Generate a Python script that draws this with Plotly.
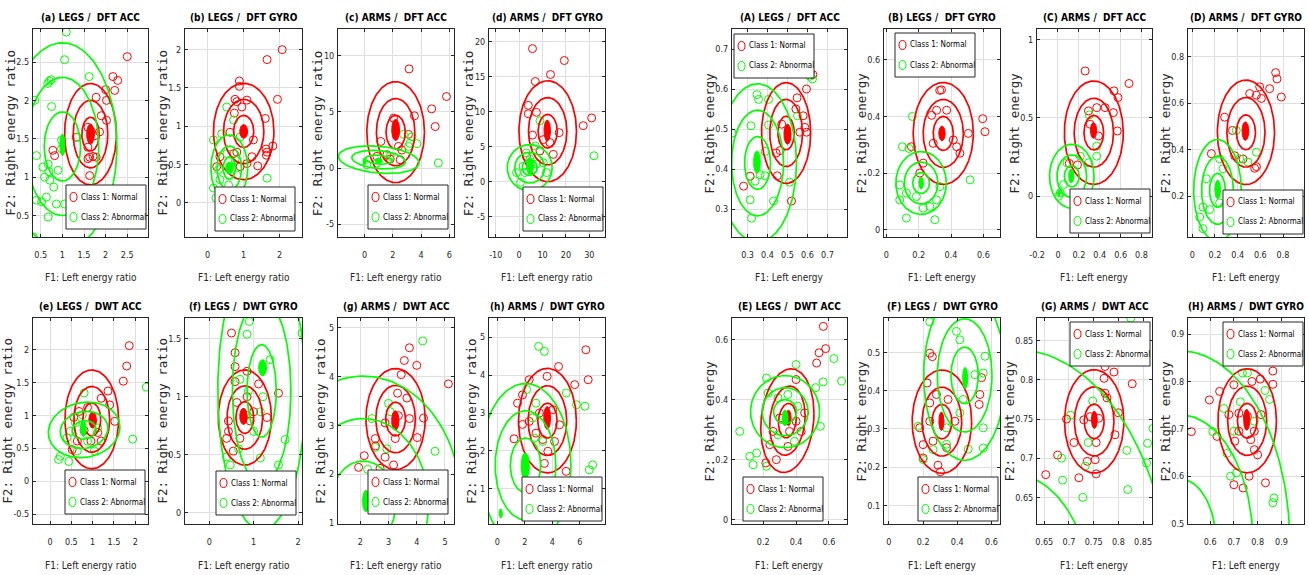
import math
import numpy as np
import plotly.graph_objects as go

W, H = 1309, 575

# ---------------- DATA ----------------
PANELS = ["a", "b", "c", "d", "A", "B", "C", "D", "e", "f", "g", "h", "E", "F", "G", "H"]

titles = {
    "a": "(a) LEGS /\u00a0 DFT ACC", "b": "(b) LEGS /\u00a0 DFT GYRO",
    "c": "(c) ARMS /\u00a0 DFT ACC", "d": "(d) ARMS /\u00a0 DFT GYRO",
    "e": "(e) LEGS /\u00a0 DWT ACC", "f": "(f) LEGS /\u00a0 DWT GYRO",
    "g": "(g) ARMS /\u00a0 DWT ACC", "h": "(h) ARMS /\u00a0 DWT GYRO",
    "A": "(A) LEGS /\u00a0 DFT ACC", "B": "(B) LEGS /\u00a0 DFT GYRO",
    "C": "(C) ARMS /\u00a0 DFT ACC", "D": "(D) ARMS /\u00a0 DFT GYRO",
    "E": "(E) LEGS /\u00a0 DWT ACC", "F": "(F) LEGS /\u00a0 DWT GYRO",
    "G": "(G) ARMS /\u00a0 DWT ACC", "H": "(H) ARMS /\u00a0 DWT GYRO",
}
legend_labels = ["Class 1: Normal", "Class 2: Abnormal"]

# scattered samples (F1, F2)
red_pts = {
    "a": [(2.5, 2.57), (2.17, 2.31), (2.28, 2.26), (2.0, 2.14), (2.21, 2.13), (1.78, 2.04), (2.02, 2.0), (2.02, 1.74),
          (1.9, 1.8), (1.59, 1.65), (1.67, 1.59), (1.75, 1.54), (1.86, 1.59), (1.63, 1.26), (1.59, 1.24), (1.71, 1.27),
          (1.78, 1.26), (1.59, 1.39), (1.32, 1.52), (0.82, 1.28), (0.78, 1.35), (1.63, 1.02)],
    "b": [(2.07, 2.0), (1.65, 1.87), (1.94, 1.35), (0.88, 1.59), (0.88, 1.52), (0.76, 1.35), (0.81, 1.32), (0.95, 1.25),
          (1.09, 1.34), (0.74, 1.17), (1.6, 1.1), (1.81, 0.74), (1.62, 0.7), (1.65, 0.66), (1.63, 0.62), (1.39, 0.48),
          (1.23, 0.6), (0.34, 0.6), (0.25, 0.47), (0.72, 0.64), (1.09, 0.51), (1.27, 0.82), (0.62, 0.92), (0.81, 0.66),
          (0.9, 0.47)],
    "c": [(3.15, 8.84), (5.8, 6.38), (4.75, 5.28), (5.0, 3.7), (3.53, 4.66), (1.15, 2.37), (1.58, 1.19), (1.81, 0.8),
          (2.64, 1.6), (3.11, 3.0), (2.05, 4.45), (2.4, 1.93), (0.87, 1.04), (2.52, 0.74)],
    "d": [(5.7, 19.0), (19.3, 17.3), (13.4, 15.3), (6.9, 14.3), (3.9, 10.9), (3.9, 9.7), (7.4, 9.9), (27.4, 8.0),
          (31, 9.1), (5.7, 6.65), (17.1, 7.0), (14.6, 3.9), (13.1, 5.6), (10.3, 6.0), (8.9, 4.4), (3.1, 3.6)],
    "e": [(1.86, 2.06), (1.8, 1.75), (1.72, 1.52), (1.36, 1.37), (1.2, 1.26), (0.68, 1.06), (1.4, 1.16), (1.52, 0.91),
          (1.12, 0.74), (0.8, 0.77), (0.64, 0.61), (0.52, 0.48), (0.96, 0.61), (1.2, 0.61), (0.56, 0.97), (0.88, 1.12)],
    "f": [(0.5, 1.55), (0.58, 1.38), (0.58, 1.26), (0.58, 1.13), (0.85, 1.22), (1.11, 1.11), (1.56, 1.03), (0.43, 0.79),
          (0.43, 0.7), (0.39, 0.64), (0.54, 0.53), (0.69, 0.64), (0.92, 0.79), (1.3, 0.82), (0.5, 0.31), (0.85, 1.0),
          (1.0, 0.87), (0.62, 0.95)],
    "g": [(3.74, 4.59), (3.56, 4.33), (4.0, 4.23), (3.45, 4.04), (5.12, 3.85), (3.32, 3.66), (3.65, 3.56), (3.74, 3.14),
          (4.02, 2.75), (2.88, 3.05), (2.53, 2.73), (2.54, 2.58), (2.14, 2.38), (1.94, 2.14), (2.7, 2.12), (3.18, 2.19),
          (3.24, 2.73), (3.35, 3.2), (4.24, 3.15), (2.88, 2.35)],
    "h": [(6.43, 4.67), (6.6, 3.88), (4.45, 4.23), (3.62, 3.97), (2.32, 3.88), (1.83, 3.48), (1.47, 3.26), (2.32, 2.78),
          (1.22, 2.32), (2.81, 2.47), (3.67, 1.99), (4.52, 2.69), (4.16, 2.25), (3.42, 1.67), (5.0, 1.46), (5.62, 3.75),
          (3.06, 3.0), (1.83, 2.7), (3.3, 2.3), (4.03, 3.09)],
    "A": [(0.627, 0.636), (0.614, 0.642), (0.595, 0.6), (0.548, 0.578), (0.542, 0.55), (0.578, 0.533), (0.587, 0.504),
          (0.562, 0.492), (0.463, 0.446), (0.443, 0.44), (0.449, 0.383), (0.313, 0.382), (0.28, 0.357), (0.52, 0.32),
          (0.471, 0.512), (0.595, 0.492)],
    "B": [(0.596, 0.392), (0.61, 0.346), (0.507, 0.34), (0.33, 0.492), (0.341, 0.494), (0.311, 0.422), (0.373, 0.422),
          (0.28, 0.404), (0.414, 0.317), (0.455, 0.27), (0.435, 0.293), (0.29, 0.305), (0.228, 0.235), (0.155, 0.293),
          (0.207, 0.2)],
    "C": [(0.26, 0.8), (0.68, 0.72), (0.575, 0.63), (0.536, 0.673), (0.53, 0.534), (0.568, 0.417), (0.451, 0.566),
          (0.371, 0.566), (0.292, 0.545), (0.308, 0.46), (0.387, 0.385), (0.187, 0.2), (0.108, 0.21)],
    "D": [(0.735, 0.732), (0.747, 0.705), (0.785, 0.627), (0.682, 0.663), (0.594, 0.671), (0.565, 0.635), (0.506, 0.642),
          (0.609, 0.621), (0.285, 0.54), (0.353, 0.483), (0.374, 0.374), (0.447, 0.36), (0.55, 0.32), (0.565, 0.327),
          (0.168, 0.383)],
    "E": [(0.566, 0.644), (0.58, 0.57), (0.54, 0.556), (0.525, 0.522), (0.4, 0.467), (0.452, 0.356), (0.36, 0.294),
          (0.35, 0.244), (0.28, 0.2), (0.216, 0.189), (0.24, 0.25), (0.26, 0.294), (0.3, 0.339), (0.4, 0.328),
          (0.431, 0.294)],
    "F": [(0.239, 0.498), (0.254, 0.489), (0.223, 0.42), (0.278, 0.39), (0.239, 0.368), (0.346, 0.377), (0.386, 0.32),
          (0.532, 0.39), (0.528, 0.364), (0.542, 0.434), (0.239, 0.32), (0.18, 0.303), (0.258, 0.268), (0.2, 0.259),
          (0.287, 0.205), (0.301, 0.188), (0.229, 0.155), (0.243, 0.143), (0.337, 0.251), (0.2, 0.224)],
    "G": [(0.773, 0.817), (0.791, 0.81), (0.771, 0.802), (0.828, 0.795), (0.773, 0.783), (0.777, 0.777), (0.73, 0.749),
          (0.743, 0.753), (0.76, 0.751), (0.8, 0.758), (0.793, 0.73), (0.755, 0.72), (0.71, 0.72), (0.677, 0.704),
          (0.653, 0.679), (0.72, 0.675), (0.737, 0.696), (0.753, 0.698), (0.755, 0.68), (0.695, 0.75)],
    "H": [(0.864, 0.822), (0.864, 0.794), (0.811, 0.805), (0.776, 0.8), (0.7, 0.793), (0.64, 0.779), (0.597, 0.761),
          (0.521, 0.694), (0.629, 0.684), (0.679, 0.73), (0.721, 0.733), (0.757, 0.726), (0.721, 0.695), (0.786, 0.695),
          (0.814, 0.73), (0.786, 0.656), (0.8, 0.645), (0.764, 0.6), (0.7, 0.582), (0.739, 0.575), (0.833, 0.586),
          (0.704, 0.674), (0.771, 0.677)],
}
green_pts = {
    "a": [(1.09, 2.89), (1.05, 2.53), (0.7, 2.25), (0.74, 2.27), (0.66, 2.22), (0.75, 1.92), (0.36, 2.0), (1.62, 2.31),
          (0.4, 1.28), (0.98, 1.48), (0.98, 1.37), (0.67, 1.17), (0.69, 1.07), (0.71, 0.96), (0.8, 0.87), (0.9, 1.09),
          (0.59, 1.0), (0.55, 1.13), (0.63, 0.74), (0.86, 0.65), (1.05, 0.65), (0.4, 0.7), (0.67, 0.48), (0.33, 0.22),
          (1.34, 1.52), (0.52, 0.68)],
    "b": [(0.16, 0.19), (0.23, 0.06), (0.34, 0.3), (0.58, 0.23), (0.3, 0.43), (0.53, 1.25), (0.72, 1.08), (0.39, 0.9),
          (1.65, 0.32), (0.62, 0.47), (0.76, 0.56), (0.81, 0.36), (0.16, 0.82), (0.9, 0.86), (0.53, 0.64)],
    "c": [(5.22, 0.45), (3.7, 2.17), (3.2, 2.2), (2.75, 3.0), (3.35, 2.8), (3.11, 1.93), (1.81, 1.04), (0.16, 0.3),
          (0.87, 0.45)],
    "d": [(32, 3.7), (8.9, 8.7), (6.9, 5.1), (0.6, -0.1), (1.7, 2.2), (2.4, 1.3), (4.6, 3.2), (6.0, 1.8), (7.4, 2.5),
          (10.3, 2.7), (11.7, 1.3), (-1.1, 1.3), (3.1, 4.1)],
    "e": [(2.26, 1.43), (1.94, 0.64), (0.24, 0.38), (0.2, 0.33), (0.44, 0.3), (0.8, 1.34), (0.4, 0.66), (0.48, 0.76),
          (0.6, 0.89), (0.76, 1.01), (0.88, 0.61), (1.12, 0.81), (0.64, 0.46), (1.04, 0.46)],
    "f": [(0.9, 1.65), (0.85, 1.54), (1.37, 1.32), (1.21, 1.0), (0.88, 1.05), (0.69, 1.15), (1.71, 0.63), (2.09, 1.55),
          (1.15, 0.47), (1.56, 0.41), (0.66, 0.55), (0.39, 0.48), (0.47, 0.41), (1.0, 0.7), (1.15, 0.87), (0.85, 0.84)],
    "g": [(4.21, 4.73), (4.65, 2.47), (2.26, 2.1), (2.41, 3.14), (2.53, 2.55), (3.0, 3.45), (3.06, 3.28), (2.94, 2.52)],
    "h": [(3.0, 4.76), (3.42, 4.63), (5.01, 3.53), (5.75, 3.22), (6.36, 3.18), (6.92, 1.63), (6.68, 1.5), (2.13, 3.62),
          (2.81, 3.26), (2.69, 2.34), (3.3, 2.25), (2.57, 2.87)],
    "A": [(0.612, 0.632), (0.625, 0.625), (0.222, 0.49), (0.347, 0.586), (0.355, 0.574), (0.405, 0.574), (0.317, 0.508),
          (0.405, 0.51), (0.55, 0.533), (0.313, 0.323), (0.32, 0.277), (0.43, 0.32), (0.51, 0.367), (0.388, 0.444),
          (0.363, 0.386), (0.338, 0.37), (0.388, 0.383)],
    "B": [(0.161, 0.4), (0.099, 0.293), (0.14, 0.287), (0.518, 0.176), (0.124, 0.129), (0.083, 0.105), (0.124, 0.041),
          (0.3, 0.035), (0.269, 0.082), (0.228, 0.076), (0.31, 0.105), (0.331, 0.152), (0.186, 0.117), (0.083, 0.158)],
    "C": [(0.3, 0.52), (0.371, 0.256), (0.371, 0.32), (0.292, 0.214), (0.213, 0.256), (0.086, 0.214), (0.054, 0.075),
          (0.022, 0.021), (0.006, 0.0)],
    "D": [(0.565, 0.389), (0.491, 0.347), (0.418, 0.361), (0.388, 0.483), (0.241, 0.361), (0.271, 0.318),
          (0.124, 0.275), (0.094, 0.153), (0.065, 0.11), (0.094, 0.06), (0.153, 0.142), (0.241, 0.171)],
    "E": [(0.63, 0.537), (0.677, 0.462), (0.565, 0.459), (0.52, 0.44), (0.4, 0.517), (0.057, 0.294), (0.118, 0.211),
          (0.139, 0.183), (0.16, 0.222), (0.22, 0.178), (0.548, 0.311), (0.22, 0.472), (0.23, 0.422), (0.29, 0.406),
          (0.35, 0.417), (0.41, 0.378), (0.29, 0.283), (0.39, 0.261)],
    "F": [(0.395, 0.555), (0.415, 0.533), (0.562, 0.49), (0.552, 0.446), (0.503, 0.442), (0.434, 0.377), (0.552, 0.303),
          (0.552, 0.25), (0.464, 0.247), (0.337, 0.26), (0.337, 0.303), (0.415, 0.342), (0.171, 0.307), (0.2, 0.22),
          (0.258, 0.246), (0.239, 0.58)],
    "G": [(0.825, 0.879), (0.703, 0.755), (0.685, 0.7), (0.687, 0.672), (0.728, 0.65), (0.739, 0.72), (0.817, 0.71),
          (0.819, 0.66), (0.859, 0.719), (0.857, 0.694), (0.87, 0.738), (0.748, 0.773), (0.733, 0.69)],
    "H": [(0.757, 0.818), (0.736, 0.818), (0.831, 0.781), (0.85, 0.762), (0.727, 0.757), (0.657, 0.743), (0.671, 0.648),
          (0.686, 0.6), (0.711, 0.607), (0.869, 0.554), (0.864, 0.544), (0.611, 0.694), (0.786, 0.716), (0.7, 0.695)],
}

# Gaussian fits per class: (mean F1, mean F2, sigma F1, sigma F2, tilt slope)
gauss_red = {
    "a": (1.65, 1.56, 0.20, 0.22, 0), "b": (1.00, 0.93, 0.28, 0.21, 0), "c": (2.20, 3.20, 0.68, 1.50, 0),
    "d": (12.2, 7.2, 4.1, 2.4, 0), "e": (0.98, 0.94, 0.21, 0.25, 0), "f": (0.80, 0.82, 0.20, 0.137, 0),
    "g": (3.25, 3.13, 0.35, 0.345, 0), "h": (3.64, 2.80, 0.70, 0.46, 0),
    "A": (0.493, 0.49, 0.041, 0.042, 0), "B": (0.352, 0.34, 0.062, 0.060, 0), "C": (0.343, 0.406, 0.094, 0.110, 0),
    "D": (0.473, 0.475, 0.084, 0.075, 0), "E": (0.347, 0.33, 0.054, 0.057, 0.15), "F": (0.31, 0.319, 0.058, 0.045, 0),
    "G": (0.751, 0.747, 0.020, 0.022, 0), "H": (0.756, 0.717, 0.041, 0.0366, 0),
}
gauss_green = {
    "a": (1.00, 1.40, 0.42, 0.45, 0), "b": (0.60, 0.45, 0.17, 0.145, 0), "c": (1.00, 0.75, 0.95, 0.40, -0.1),
    "d": (4.5, 2.0, 3.2, 1.1, 0), "e": (0.80, 0.78, 0.28, 0.14, 0.05), "f": (1.18, 1.05, 0.33, 0.40, 0),
    "g": (2.10, 1.40, 1.16, 0.87, 0), "h": (2.05, 1.62, 1.10, 0.72, 0),
    "A": (0.35, 0.415, 0.065, 0.066, 0), "B": (0.215, 0.165, 0.052, 0.037, 0), "C": (0.132, 0.128, 0.071, 0.068, 0),
    "D": (0.222, 0.225, 0.070, 0.073, 0), "E": (0.333, 0.36, 0.070, 0.040, 0), "F": (0.443, 0.44, 0.080, 0.074, 0),
    "G": (0.585, 0.52, 0.16, 0.16, 0), "H": (0.47, 0.46, 0.155, 0.135, 0),
}
# filled core regions: (F1, F2, half-width, half-height)
fill_red = {
    "a": (1.65, 1.56, 0.09, 0.13), "b": (1.0, 0.93, 0.11, 0.09), "c": (2.2, 3.4, 0.28, 0.95), "d": (12.0, 7.3, 1.4, 1.5),
    "e": (1.0, 0.93, 0.09, 0.12), "f": (0.77, 0.83, 0.085, 0.07), "g": (3.24, 3.1, 0.13, 0.2), "h": (3.62, 2.87, 0.25, 0.3),
    "A": (0.5, 0.487, 0.018, 0.025), "B": (0.344, 0.34, 0.02, 0.026), "C": (0.34, 0.42, 0.03, 0.05),
    "D": (0.468, 0.48, 0.03, 0.04), "E": (0.354, 0.339, 0.016, 0.026), "F": (0.307, 0.32, 0.015, 0.024),
    "G": (0.7513, 0.749, 0.006, 0.011), "H": (0.754, 0.719, 0.013, 0.022),
}
fill_green = {
    "a": (1.0, 1.42, 0.06, 0.14), "b": (0.6, 0.45, 0.1, 0.08), "c": (1.0, 0.65, 0.25, 0.25), "d": (4.6, 2.25, 1.5, 1.2),
    "e": (0.78, 0.8, 0.07, 0.12), "f": (1.2, 1.25, 0.09, 0.07), "g": (2.2, 1.45, 0.12, 0.22), "h": (2.03, 1.6, 0.3, 0.35),
    "A": (0.347, 0.417, 0.017, 0.028), "B": (0.215, 0.165, 0.014, 0.022), "C": (0.127, 0.13, 0.025, 0.045),
    "D": (0.224, 0.229, 0.025, 0.04), "E": (0.333, 0.339, 0.018, 0.026), "F": (0.446, 0.433, 0.015, 0.028),
    "G": (0.585, 0.52, 0.02, 0.03), "H": (0.47, 0.46, 0.02, 0.03),
}
fill_green_extra = {"c": (0.0, 0.6, 0.12, 0.3), "h": (0.25, 0.35, 0.12, 0.12), "C": (0.01, 0.02, 0.012, 0.02)}
ring_levels = [1, 2, 3]

# axis ranges / tick steps
x_range = {"a": (0.32, 2.98), "b": (-0.63, 2.62), "c": (-1.88, 6.33), "d": (-12.9, 36.7), "e": (-0.4, 2.3),
           "f": (-0.55, 2.09), "g": (1.21, 5.32), "h": (-0.6, 7.82), "A": (0.222, 0.798), "B": (-0.0145, 0.703),
           "C": (-0.201, 0.9), "D": (-0.038, 0.985), "E": (0.01, 0.71), "F": (-0.029, 0.65), "G": (0.6353, 0.868),
           "H": (0.507, 0.995)}
y_range = {"a": (0.22, 2.93), "b": (-0.45, 2.27), "c": (-6.15, 12.4), "d": (-7.9, 21.8), "e": (-0.65, 2.48),
           "f": (-0.1, 1.68), "g": (0.98, 5.2), "h": (0.07, 5.51), "A": (0.23, 0.75), "B": (-0.026, 0.709),
           "C": (-0.26, 1.068), "D": (0.024, 0.92), "E": (-0.0144, 0.672), "F": (0.0514, 0.59), "G": (0.616, 0.879),
           "H": (0.499, 0.934)}
x_dtick = {"a": 0.5, "b": 1, "c": 2, "d": 10, "e": 0.5, "f": 1, "g": 1, "h": 2,
           "A": 0.1, "B": 0.2, "C": 0.2, "D": 0.2, "E": 0.2, "F": 0.2, "G": 0.05, "H": 0.1}
y_dtick = {"a": 0.5, "b": 0.5, "c": 5, "d": 5, "e": 0.5, "f": 0.5, "g": 1, "h": 1,
           "A": 0.1, "B": 0.2, "C": 0.5, "D": 0.2, "E": 0.2, "F": 0.1, "G": 0.05, "H": 0.1}

# ---------------- LAYOUT (pixels) ----------------
BOX_X = [(33, 148), (185, 302), (338, 454), (489, 605), (732, 847), (884, 1000), (1037, 1152), (1188, 1304)]
BOX_Y = [(29, 237), (318, 524)]
# legend boxes in the reference: (left, top, right)
LEG_REF = {"a": (80, 185, 146), "b": (232, 187, 295), "c": (383, 185, 448), "d": (538, 187, 603),
           "e": (79, 470, 145), "f": (232, 471, 296), "g": (383, 470, 448), "h": (536, 477, 602),
           "A": (734, 34, 799), "B": (909, 33, 975), "C": (1084, 189, 1150), "D": (1237, 190, 1303),
           "E": (757, 477, 823), "F": (933, 477, 998), "G": (1084, 322, 1150), "H": (1237, 322, 1303)}
LEG_W, LEG_H = 80, 44

NARROW = "DejaVu Sans Condensed, Liberation Sans Narrow, sans-serif"
WIDE = "DejaVu Sans Mono, monospace"
RED, GREEN = "#ff0000", "#00ff00"
FRAME = "#262626"
TICK_SIZE = 9


def px_x(p):
    return p / W


def px_y(p):
    return 1 - p / H


def ellipse(cx, cy, rx, ry, slope=0.0, n=160):
    t = np.linspace(0, 2 * np.pi, n)
    dx = rx * np.cos(t)
    return cx + dx, cy + ry * np.sin(t) + slope * dx


def ticks(lo, hi, dt):
    vals, txt = [], []
    k = math.ceil(lo / dt - 1e-9)
    while k * dt <= hi + 1e-9:
        v = round(k * dt, 6)
        vals.append(v)
        txt.append(("%g" % v).replace("\u2212", "-"))
        k += 1
    return vals, txt


def text_w(s, size):
    w = 0.0
    for ch in s:
        w += 0.29 if ch == "." else (0.33 if ch == "-" else 0.57)
    return w * size


fig = go.Figure()
layout = {}
shapes, annotations = [], []

for i, key in enumerate(PANELS):
    row, col = divmod(i, 8)
    bx0, bx1 = BOX_X[col]
    by0, by1 = BOX_Y[row]
    n = i + 1
    xa, ya = ("x%d" % n if n > 1 else "x"), ("y%d" % n if n > 1 else "y")
    left_group = key.islower()

    common = dict(showline=True, mirror="ticks", linecolor=FRAME, linewidth=1, ticks="inside", ticklen=3,
                  tickcolor=FRAME, tickwidth=1, showgrid=True, gridcolor="#dfdfdf", gridwidth=1, zeroline=False,
                  tickfont=dict(family=NARROW, size=TICK_SIZE, color=FRAME), automargin=False)
    xv, xt = ticks(*x_range[key], x_dtick[key])
    yv, yt = ticks(*y_range[key], y_dtick[key])
    layout["xaxis%d" % n] = dict(common, domain=[px_x(bx0), px_x(bx1)], anchor=ya, range=list(x_range[key]),
                                 tickmode="array", tickvals=xv, ticktext=xt, ticklabelstandoff=9)
    layout["yaxis%d" % n] = dict(common, domain=[px_y(by1), px_y(by0)], anchor=xa, range=list(y_range[key]),
                                 tickmode="array", tickvals=yv, ticktext=yt, ticklabelstandoff=1)

    rx_, ry_ = zip(*red_pts[key])
    gx_, gy_ = zip(*green_pts[key])
    fig.add_trace(go.Scatter(x=rx_, y=ry_, mode="markers", xaxis=xa, yaxis=ya, showlegend=False,
                             marker=dict(symbol="circle-open", size=8, color=RED, line=dict(width=1, color=RED))))
    fig.add_trace(go.Scatter(x=gx_, y=gy_, mode="markers", xaxis=xa, yaxis=ya, showlegend=False,
                             marker=dict(symbol="circle-open", size=8, color=GREEN, line=dict(width=1, color=GREEN))))

    for gauss, fill, color in ((gauss_red, fill_red, RED), (gauss_green, fill_green, GREEN)):
        cx, cy, sx, sy, sl = gauss[key]
        for k in ring_levels:
            ex, ey = ellipse(cx, cy, k * sx, k * sy, sl)
            fig.add_trace(go.Scatter(x=ex, y=ey, mode="lines", xaxis=xa, yaxis=ya, showlegend=False,
                                     line=dict(color=color, width=1.7), hoverinfo="skip"))
        fills = [fill[key]]
        if color == GREEN and key in fill_green_extra:
            fills.append(fill_green_extra[key])
        for fx, fy, frx, fry in fills:
            ex, ey = ellipse(fx, fy, frx, fry)
            fig.add_trace(go.Scatter(x=ex, y=ey, mode="lines", fill="toself", fillcolor=color, xaxis=xa, yaxis=ya,
                                     showlegend=False, line=dict(color=color, width=1), hoverinfo="skip"))

    # title
    annotations.append(dict(text="<b>%s</b>" % titles[key], xref="paper", yref="paper", x=px_x((bx0 + bx1) / 2),
                            y=px_y(by0 - 12), xanchor="center", yanchor="middle", showarrow=False,
                            font=dict(family=NARROW, size=10, color="#000000")))
    # axis labels
    annotations.append(dict(text="F1: Left energy ratio" if left_group else "F1: Left energy", xref="paper",
                            yref="paper", x=px_x((bx0 + bx1) / 2), y=px_y(by1 + 41), xanchor="center",
                            yanchor="middle", showarrow=False, font=dict(family=NARROW, size=10, color=FRAME)))
    ylab_off = max(18.0, 3 + max(text_w(t, TICK_SIZE) for t in yt) + 1 + 6.5)
    annotations.append(dict(text="F2: Right energy ratio" if left_group else "F2: Right energy", xref="paper",
                            yref="paper", x=px_x(bx0 - ylab_off), y=px_y((by0 + by1) / 2), xanchor="center",
                            yanchor="middle", textangle=-90, showarrow=False,
                            font=dict(family=WIDE, size=12.5, color=FRAME)))

    # legend box
    l0, lt, l1 = LEG_REF[key]
    lx = l0 if key == "A" else l1 - LEG_W
    shapes.append(dict(type="rect", xref="paper", yref="paper", x0=px_x(lx), x1=px_x(lx + LEG_W),
                       y0=px_y(lt + LEG_H), y1=px_y(lt), fillcolor="white", line=dict(color=FRAME, width=1),
                       layer="above"))
    for j, (lab, color) in enumerate(zip(legend_labels, (RED, GREEN))):
        cyp = lt + 12 + j * 20
        shapes.append(dict(type="circle", xref="paper", yref="paper", x0=px_x(lx + 4), x1=px_x(lx + 11),
                           y0=px_y(cyp + 4.5), y1=px_y(cyp - 4.5), line=dict(color=color, width=1), layer="above"))
        annotations.append(dict(text=lab, xref="paper", yref="paper", x=px_x(lx + 13), y=px_y(cyp),
                                xanchor="left", yanchor="middle", showarrow=False,
                                font=dict(family=NARROW, size=8, color="#000000")))

fig.update_layout(**layout)
fig.update_layout(width=W, height=H, margin=dict(l=0, r=0, t=0, b=0), paper_bgcolor="white",
                  plot_bgcolor="white", showlegend=False, shapes=shapes, annotations=annotations)

fig.write_html("out.html", config={"displayModeBar": False},
               post_script="document.body.style.margin='0';document.body.style.overflow='hidden';")
